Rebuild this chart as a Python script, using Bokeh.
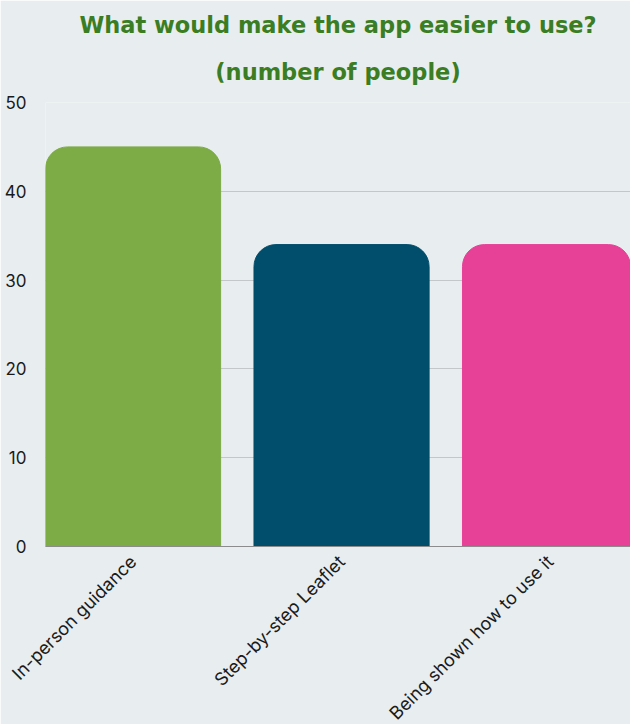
import math
from bokeh.plotting import figure
from bokeh.models import Range1d, FixedTicker, ColumnDataSource, Title
from bokeh.embed import file_html
from bokeh.resources import INLINE

categories = ["In-person guidance", "Step-by-step Leaflet", "Being shown how to use it"]
counts = [45, 34, 34]
colors = ["#7dab45", "#004e6b", "#e74097"]
y_ticks = [0, 10, 20, 30, 40, 50]
title_lines = ["What would make the app easier to use?", "(number of people)"]

BG = "#e8edf0"
TITLE_COLOR = "#3b7d23"
xs = list(range(len(categories)))
src = ColumnDataSource(dict(x=xs, top=counts, color=colors))

p = figure(frame_width=585, frame_height=444, output_backend="svg", toolbar_location=None,
           x_range=Range1d(-0.42, 2.386), y_range=Range1d(0, 50),
           background_fill_color=BG, border_fill_color=BG, outline_line_color=None,
           min_border_left=45, min_border_right=0, min_border_top=102, min_border_bottom=150)

p.vbar(x="x", top="top", width=0.84, bottom=0, color="color", source=src,
       border_radius=(22, 22, 0, 0))

p.title.text = title_lines[0]
p.title.text_font = "DejaVu Sans"
p.title.text_font_style = "bold"
p.title.text_font_size = "22.5px"
p.title.text_color = TITLE_COLOR
p.title.align = "center"
p.title.vertical_align = "top"
p.title.standoff = 7
p.add_layout(Title(text=title_lines[1], text_font="DejaVu Sans", text_font_style="bold",
                   text_font_size="22.5px", text_color=TITLE_COLOR, align="center",
                   vertical_align="top", standoff=31), "above")

p.xaxis.ticker = FixedTicker(ticks=xs)
p.xaxis.major_label_overrides = {i: c for i, c in zip(xs, categories)}
p.xaxis.major_label_orientation = math.pi / 4
p.xaxis.major_label_text_font = "Inter"
p.xaxis.major_label_text_font_size = "18px"
p.xaxis.major_label_text_color = "#1a1a1a"
p.xaxis.axis_line_color = "#8c8c8c"
p.xaxis.major_tick_line_color = None
p.xaxis.minor_tick_line_color = None
p.xaxis.major_label_standoff = 6

p.yaxis.ticker = FixedTicker(ticks=y_ticks)
p.yaxis.major_label_text_font = "Inter"
p.yaxis.major_label_text_font_size = "17px"
p.yaxis.major_label_text_color = "#1a1a1a"
p.yaxis.axis_line_color = None
p.yaxis.major_tick_line_color = None
p.yaxis.minor_tick_line_color = None
p.yaxis.major_label_standoff = 13

p.xgrid.grid_line_color = None
p.ygrid.grid_line_color = "#c3c7ca"
p.ygrid.level = "underlay"

open("out.html", "w").write(file_html(p, INLINE))
